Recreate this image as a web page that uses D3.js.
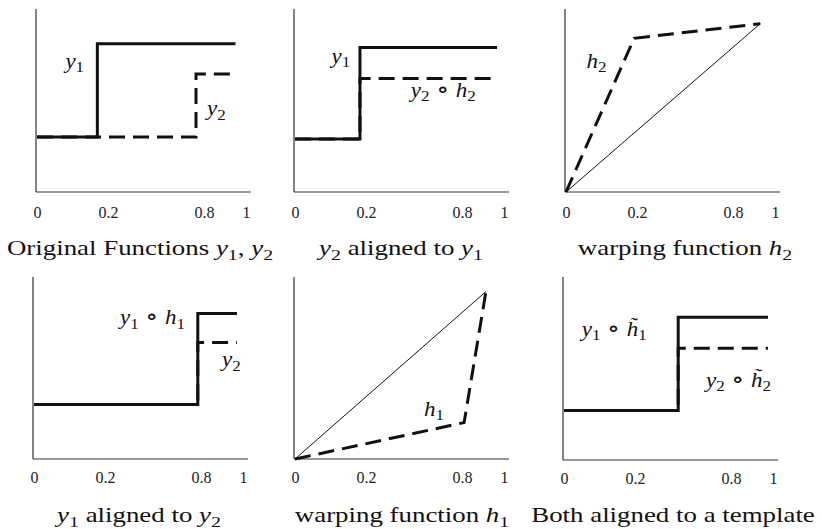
<!DOCTYPE html>
<html>
<head>
<meta charset="utf-8">
<script src="https://cdn.jsdelivr.net/npm/d3@7"></script>
<style>
  body { margin: 0; background: #fff; }
  svg { display: block; }
</style>
</head>
<body>
<svg id="chart" width="822" height="529"></svg>
<script>
// tick labels shared by every panel
const xTicks = [0, 0.2, 0.8, 1];

// panel 1: original functions (step functions, curveStepAfter)
const y1Orig = [[0, 0.30], [0.17, 0.81], [0.95, 0.81]];
const y2Orig = [[0, 0.30], [0.75, 0.645], [0.95, 0.645]];
// panel 2: y2 aligned to y1
const y1Ref = [[0, 0.29], [0.183, 0.79], [0.967, 0.79]];
const y2Warped = [[0, 0.29], [0.183, 0.62], [0.938, 0.62]];
// panel 3: warping function h2 + identity
const identity2 = [[0, 0], [0.93, 0.92]];
const h2 = [[0, 0], [0.192, 0.84], [0.93, 0.92]];
// panel 4: y1 aligned to y2
const y1Warped = [[0, 0.30], [0.78, 0.80], [0.971, 0.80]];
const y2Ref = [[0, 0.30], [0.78, 0.64], [0.971, 0.64]];
// panel 5: warping function h1 + identity
const identity1 = [[0, 0], [0.914, 0.92]];
const h1 = [[0, 0], [0.81, 0.20], [0.914, 0.92]];
// panel 6: both aligned to a template
const y1Tmpl = [[0, 0.27], [0.47, 0.78], [0.976, 0.78]];
const y2Tmpl = [[0, 0.27], [0.47, 0.61], [0.976, 0.61]];

const svg = d3.select('#chart');

const comp = [' \u2218 ', 'c'];

// panel layout: axis origin and title placement
const panels = [
  {x0: 36,  top: 9,   bottom: 192, tickPad: 15, titleX: 104, titleY: 255,
   title: [['Original Functions '], ['y', 'i'], ['1', 's'], [', '], ['y', 'i'], ['2', 's']],
   series: [{d: y2Orig, dash: true, step: true}, {d: y1Orig, step: true}],
   labels: [{x: 0.08, y: 0.68, t: [['y', 'i'], ['1', 's']]},
            {x: 0.814, y: 0.42, t: [['y', 'i'], ['2', 's']]}]},
  {x0: 294, top: 9,   bottom: 192, tickPad: 15, titleX: 107, titleY: 255,
   title: [['y', 'i'], ['2', 's'], [' aligned to '], ['y', 'i'], ['1', 's']],
   series: [{d: y2Warped, dash: true, step: true}, {d: y1Ref, step: true}],
   labels: [{x: 0.103, y: 0.705, t: [['y', 'i'], ['1', 's']]},
            {x: 0.48, y: 0.52, t: [['y', 'i'], ['2', 's'], comp, ['h', 'i'], ['2', 's']]}]},
  {x0: 565, top: 9,   bottom: 192, tickPad: 15, titleX: 120, titleY: 255,
   title: [['warping function '], ['h', 'i'], ['2', 's']],
   series: [{d: identity2, thin: true}, {d: h2, dash: true}],
   labels: [{x: 0.058, y: 0.68, t: [['h', 'i'], ['2', 's']]}]},
  {x0: 33,  top: 277, bottom: 459, tickPad: 13, titleX: 106, titleY: 522,
   title: [['y', 'i'], ['1', 's'], [' aligned to '], ['y', 'i'], ['2', 's']],
   series: [{d: y2Ref, dash: true, step: true}, {d: y1Warped, step: true}],
   labels: [{x: 0.294, y: 0.74, t: [['y', 'i'], ['1', 's'], comp, ['h', 'i'], ['1', 's']]},
            {x: 0.9, y: 0.51, t: [['y', 'i'], ['2', 's']]}]},
  {x0: 294, top: 277, bottom: 459, tickPad: 13, titleX: 108, titleY: 522,
   title: [['warping function '], ['h', 'i'], ['1', 's']],
   series: [{d: identity1, thin: true}, {d: h1, dash: true}],
   labels: [{x: 0.5625, y: 0.236, t: [['h', 'i'], ['1', 's']]}]},
  {x0: 563, top: 277, bottom: 460, tickPad: 13, titleX: 110, titleY: 522,
   title: [['Both aligned to a template']],
   series: [{d: y2Tmpl, dash: true, step: true}, {d: y1Tmpl, step: true}],
   labels: [{x: 0.05, y: 0.68, t: [['y', 'i'], ['1', 's'], comp, ['h\u0303', 'i'], ['1', 's']]},
            {x: 0.644, y: 0.40, t: [['y', 'i'], ['2', 's'], comp, ['h\u0303', 'i'], ['2', 's']]}]}
];

const font = '"Liberation Serif", "DejaVu Serif", serif';

// write a list of [text, style] pieces as tspans (i = italic, s = subscript, c = operator)
function richText(sel, parts, size) {
  let shifted = false;
  parts.forEach(p => {
    const ts = sel.append('tspan').text(p[0]);
    if (p[1] === 'i') ts.attr('font-style', 'italic');
    if (p[1] === 'c') ts.attr('font-size', size * 1.15).attr('font-weight', 300);
    if (p[1] === 's') {
      ts.attr('font-size', size * 0.74).attr('dy', size * 0.22);
      shifted = true;
    } else if (shifted) {
      ts.attr('dy', -size * 0.22);
      shifted = false;
    }
  });
}

// text stretched a little sideways, like the wide Computer Modern of the original
function placeText(g, x, y, parts, size, sx, anchor) {
  const t = g.append('text')
    .attr('transform', `translate(${x},${y}) scale(${sx},1)`)
    .attr('text-anchor', anchor)
    .attr('font-family', font).attr('font-size', size).attr('fill', '#111')
    .style('white-space', 'pre');
  richText(t, parts, size);
}

panels.forEach(p => {
  const g = svg.append('g');
  // tick labels are spaced unevenly along the axis, so the scale is piecewise
  const x = d3.scaleLinear().domain(xTicks).range([1, 72, 168, 210].map(v => v + p.x0));
  const y = d3.scaleLinear().domain([0, 1]).range([p.bottom, p.top]);

  // axes
  g.append('line')
    .attr('x1', p.x0).attr('x2', p.x0)
    .attr('y1', p.top).attr('y2', p.bottom)
    .attr('stroke', '#333').attr('stroke-width', 1.2);
  g.append('line')
    .attr('x1', p.x0).attr('x2', p.x0 + 215)
    .attr('y1', p.bottom).attr('y2', p.bottom)
    .attr('stroke', '#333').attr('stroke-width', 1.2);

  const axis = g.append('g')
    .attr('transform', `translate(0,${p.bottom})`)
    .call(d3.axisBottom(x).tickValues(xTicks).tickSize(0).tickPadding(p.tickPad)
      .tickFormat(d3.format('')));
  axis.select('.domain').remove();
  axis.selectAll('text')
    .attr('font-family', font).attr('font-size', 16).attr('fill', '#222');

  // curves
  p.series.forEach(s => {
    const line = d3.line()
      .x(d => x(d[0])).y(d => y(d[1]))
      .curve(s.step ? d3.curveStepAfter : d3.curveLinear);
    g.append('path')
      .attr('d', line(s.d))
      .attr('fill', 'none')
      .attr('stroke', '#111')
      .attr('stroke-width', s.thin ? 1 : 3)
      .attr('stroke-dasharray', s.dash ? '16,8' : null);
  });

  // curve labels
  p.labels.forEach(l => placeText(g, x(l.x), y(l.y), l.t, 20, 1.15, 'start'));

  // panel caption
  placeText(g, p.x0 + p.titleX, p.titleY, p.title, 21, 1.28, 'middle');
});
</script>
</body>
</html>
